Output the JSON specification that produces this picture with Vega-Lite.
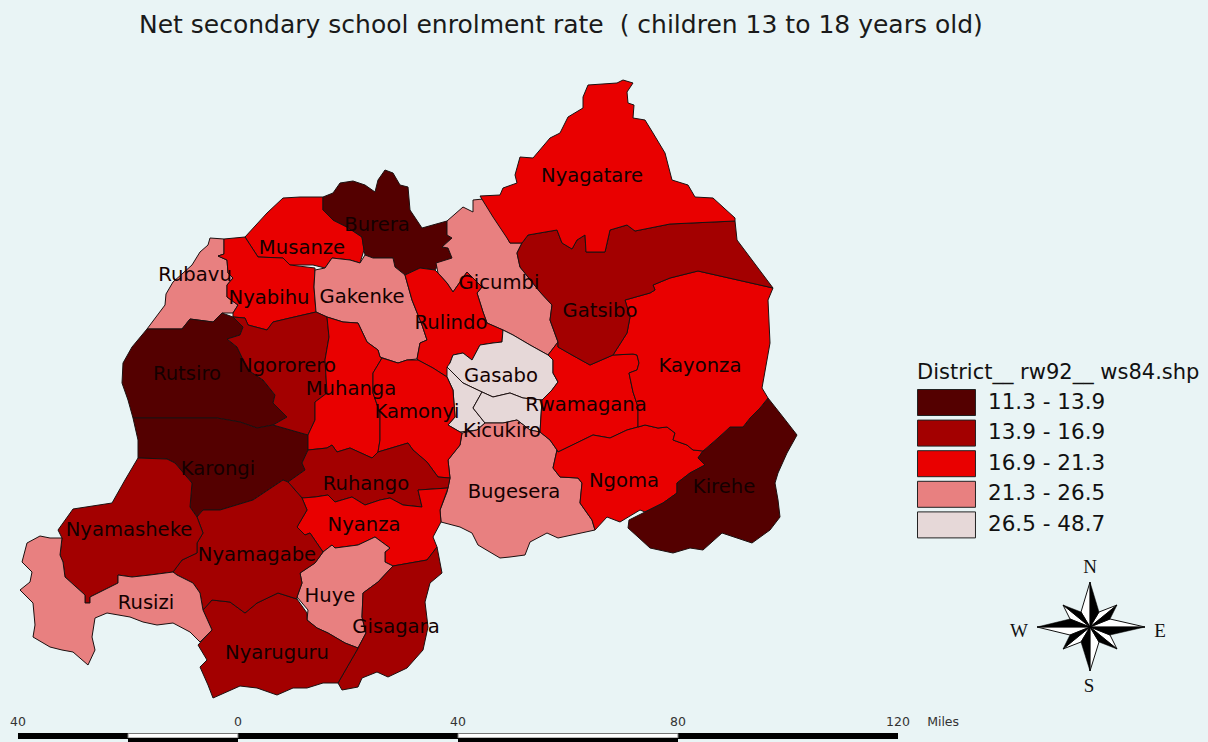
{
"$schema":"https://vega.github.io/schema/vega-lite/v6.json",
"width":1208,"height":742,"padding":0,"autosize":{"type":"none"},
"background":"#e9f4f5",
"title":{"text":"Net secondary school enrolment rate \u00a0( children 13 to 18 years old)","anchor":"start","frame":"group","dx":139,"offset":-38,"fontSize":25,"font":"DejaVu Sans","fontWeight":"normal","color":"#1a1a1a","limit":1000},
"config":{"view":{"stroke":null}},
"projection":{"type":"identity","scale":1,"translate":[0,0]},
"datasets":{
"districts":[
{"name":"Rubavu","cls":"21.3 - 26.5","geo":{"type":"Polygon","coordinates":[[[210,238],[224,239],[224,254],[218,256],[227,260],[228,273],[233,278],[227,285],[227,297],[238,305],[233,313],[222,313],[213,322],[190,319],[182,329],[147,329],[165,305],[166,294],[173,282],[192,265],[200,252],[208,245],[210,238]]]}},
{"name":"Musanze","cls":"16.9 - 21.3","geo":{"type":"Polygon","coordinates":[[[245,237],[267,213],[283,198],[300,197],[323,197],[323,210],[333,220],[347,227],[362,237],[364,250],[360,263],[350,260],[332,258],[325,268],[313,265],[290,265],[283,258],[258,257],[245,237]]]}},
{"name":"Nyabihu","cls":"16.9 - 21.3","geo":{"type":"Polygon","coordinates":[[[224,239],[245,237],[258,257],[283,258],[290,265],[315,268],[314,287],[316,312],[290,318],[273,322],[267,330],[248,325],[245,318],[233,317],[233,313],[238,305],[227,297],[227,285],[233,278],[228,273],[227,260],[218,256],[224,254],[224,239]]]}},
{"name":"Burera","cls":"11.3 - 13.9","geo":{"type":"Polygon","coordinates":[[[323,197],[333,193],[340,183],[353,181],[365,185],[375,192],[378,180],[385,170],[393,173],[400,185],[408,187],[410,210],[422,228],[447,221],[447,235],[452,238],[442,247],[448,248],[452,258],[437,267],[435,270],[420,268],[405,275],[395,267],[393,258],[373,258],[365,255],[364,250],[362,237],[347,227],[333,220],[323,210],[323,197]]]}},
{"name":"Gakenke","cls":"21.3 - 26.5","geo":{"type":"Polygon","coordinates":[[[332,258],[350,260],[360,263],[365,255],[373,258],[393,258],[395,267],[405,275],[412,300],[422,325],[427,340],[420,343],[417,359],[407,360],[398,363],[380,357],[378,350],[367,342],[358,323],[343,322],[327,317],[316,312],[314,287],[315,270],[325,268],[332,258]]]}},
{"name":"Gicumbi","cls":"21.3 - 26.5","geo":{"type":"Polygon","coordinates":[[[473,200],[483,199],[490,210],[500,223],[510,243],[522,243],[517,253],[520,267],[540,292],[552,305],[550,320],[558,342],[548,355],[530,345],[513,335],[503,330],[487,323],[483,312],[477,293],[482,287],[467,272],[453,292],[447,283],[438,273],[436,263],[452,258],[448,248],[442,247],[452,238],[447,235],[447,221],[463,207],[473,212],[473,200]]]}},
{"name":"Rulindo","cls":"16.9 - 21.3","geo":{"type":"Polygon","coordinates":[[[405,275],[420,268],[435,270],[438,273],[447,283],[453,292],[467,272],[482,287],[477,293],[483,312],[487,323],[503,330],[502,342],[493,343],[480,345],[472,360],[463,353],[453,355],[450,363],[447,377],[433,368],[418,360],[417,359],[420,343],[427,340],[422,325],[412,300],[405,275]]]}},
{"name":"Gasabo","cls":"26.5 - 48.7","geo":{"type":"Polygon","coordinates":[[[453,355],[463,353],[472,360],[480,345],[493,343],[502,342],[503,330],[513,335],[530,345],[548,355],[553,360],[553,373],[558,382],[552,390],[542,400],[523,398],[510,393],[493,397],[482,392],[463,383],[447,367],[450,363],[453,355]]]}},
{"name":"Nyarugenge","cls":"26.5 - 48.7","geo":{"type":"Polygon","coordinates":[[[447,367],[463,383],[482,392],[473,408],[485,423],[477,430],[460,432],[448,425],[455,417],[453,390],[447,377],[447,367]]]}},
{"name":"Kicukiro","cls":"26.5 - 48.7","geo":{"type":"Polygon","coordinates":[[[482,392],[493,397],[510,393],[523,398],[542,400],[540,432],[530,430],[517,420],[503,423],[485,423],[473,408],[482,392]]]}},
{"name":"Bugesera","cls":"21.3 - 26.5","geo":{"type":"Polygon","coordinates":[[[462,433],[477,430],[485,423],[503,423],[517,420],[530,430],[540,432],[550,440],[557,450],[553,468],[560,477],[578,478],[582,483],[580,503],[592,520],[595,530],[558,538],[547,533],[530,542],[525,555],[510,557],[500,558],[478,545],[472,533],[460,527],[441,522],[440,510],[447,492],[450,478],[448,460],[460,445],[462,433]]]}},
{"name":"Rwamagana","cls":"16.9 - 21.3","geo":{"type":"Polygon","coordinates":[[[540,432],[542,400],[552,390],[558,382],[553,373],[553,360],[548,355],[558,342],[558,347],[572,355],[590,365],[613,355],[633,354],[637,355],[639,363],[637,370],[629,373],[633,392],[638,407],[638,427],[627,430],[610,438],[593,435],[558,452],[557,450],[550,440],[540,432]]]}},
{"name":"Ngoma","cls":"16.9 - 21.3","geo":{"type":"Polygon","coordinates":[[[558,452],[593,435],[610,438],[627,430],[638,427],[645,425],[658,428],[667,427],[675,433],[673,440],[687,445],[693,450],[703,451],[698,458],[705,465],[690,473],[677,483],[677,493],[663,503],[645,512],[640,510],[620,522],[607,517],[595,530],[592,520],[580,503],[582,483],[578,478],[560,477],[553,468],[557,450],[558,452]]]}},
{"name":"Kirehe","cls":"11.3 - 13.9","geo":{"type":"Polygon","coordinates":[[[768,398],[783,417],[797,435],[787,453],[778,473],[775,483],[778,500],[780,517],[770,530],[752,543],[737,538],[722,533],[703,550],[690,548],[673,553],[650,548],[638,537],[628,528],[629,520],[645,512],[663,503],[677,493],[677,483],[690,473],[705,465],[698,458],[703,451],[718,438],[730,427],[743,427],[750,418],[760,408],[768,398]]]}},
{"name":"Kayonza","cls":"16.9 - 21.3","geo":{"type":"Polygon","coordinates":[[[773,288],[768,300],[770,343],[762,388],[768,398],[760,408],[750,418],[743,427],[730,427],[718,438],[703,451],[693,450],[687,445],[673,440],[675,433],[667,427],[658,428],[645,425],[638,427],[638,407],[633,392],[629,373],[637,370],[639,363],[637,355],[633,354],[613,355],[627,333],[630,317],[625,300],[650,293],[655,290],[653,285],[670,278],[698,271],[773,288]]]}},
{"name":"Gatsibo","cls":"13.9 - 16.9","geo":{"type":"Polygon","coordinates":[[[528,235],[557,230],[562,243],[572,249],[577,240],[585,235],[586,252],[605,252],[610,230],[627,225],[635,231],[670,224],[735,221],[737,240],[773,288],[698,271],[670,278],[653,285],[655,290],[650,293],[625,300],[630,317],[627,333],[613,355],[590,365],[572,355],[558,347],[558,342],[550,320],[552,305],[540,292],[520,267],[517,253],[522,243],[528,235]]]}},
{"name":"Nyagatare","cls":"16.9 - 21.3","geo":{"type":"Polygon","coordinates":[[[480,196],[500,195],[503,188],[517,183],[515,175],[520,157],[533,158],[550,138],[560,133],[568,117],[583,108],[583,97],[588,85],[617,83],[623,80],[633,83],[627,92],[628,103],[634,105],[633,118],[645,120],[653,133],[665,153],[672,180],[688,185],[695,197],[713,198],[735,218],[735,221],[670,224],[635,231],[627,225],[610,230],[605,252],[586,252],[585,235],[577,240],[572,249],[562,243],[557,230],[528,235],[522,243],[510,243],[507,238],[493,217],[480,196]]]}},
{"name":"Rutsiro","cls":"11.3 - 13.9","geo":{"type":"Polygon","coordinates":[[[147,329],[182,329],[190,319],[213,322],[222,313],[233,317],[243,327],[240,335],[227,339],[237,347],[248,370],[263,380],[275,395],[273,403],[287,417],[273,425],[257,428],[240,422],[217,418],[133,418],[128,400],[122,383],[123,363],[132,347],[147,329]]]}},
{"name":"Karongi","cls":"11.3 - 13.9","geo":{"type":"Polygon","coordinates":[[[133,418],[217,418],[240,422],[257,428],[273,425],[308,435],[308,450],[302,463],[305,470],[288,482],[283,480],[253,500],[220,510],[203,510],[197,517],[190,507],[192,483],[175,463],[167,459],[138,458],[138,440],[133,418]]]}},
{"name":"Ngororero","cls":"13.9 - 16.9","geo":{"type":"Polygon","coordinates":[[[233,317],[245,318],[248,325],[267,330],[273,322],[290,318],[316,312],[327,317],[329,337],[325,360],[327,393],[315,402],[315,420],[308,435],[273,425],[287,417],[273,403],[275,395],[263,380],[248,370],[237,347],[227,339],[240,335],[243,327],[233,317]]]}},
{"name":"Muhanga","cls":"16.9 - 21.3","geo":{"type":"Polygon","coordinates":[[[327,317],[343,322],[358,323],[367,342],[378,350],[380,357],[382,358],[373,373],[373,393],[380,413],[380,440],[378,452],[372,458],[350,448],[337,452],[332,445],[327,448],[308,450],[308,435],[315,420],[315,402],[327,393],[325,360],[329,337],[327,317]]]}},
{"name":"Kamonyi","cls":"16.9 - 21.3","geo":{"type":"Polygon","coordinates":[[[382,358],[398,363],[407,360],[418,360],[433,368],[447,377],[453,390],[455,417],[448,425],[460,432],[462,433],[460,445],[448,460],[450,478],[438,477],[427,462],[413,450],[408,443],[378,452],[380,440],[380,413],[373,393],[373,373],[382,358]]]}},
{"name":"Ruhango","cls":"13.9 - 16.9","geo":{"type":"Polygon","coordinates":[[[308,450],[327,448],[332,445],[337,452],[350,448],[372,458],[378,452],[408,443],[413,450],[427,462],[438,477],[450,478],[448,488],[418,490],[422,507],[403,505],[390,498],[380,500],[365,505],[352,497],[335,502],[328,495],[315,497],[302,498],[288,482],[305,470],[302,463],[308,450]]]}},
{"name":"Nyanza","cls":"16.9 - 21.3","geo":{"type":"Polygon","coordinates":[[[448,488],[440,510],[441,522],[433,537],[437,547],[427,560],[393,566],[385,562],[385,552],[390,548],[375,537],[358,545],[335,548],[332,545],[323,552],[310,533],[305,535],[297,527],[307,510],[302,498],[315,497],[328,495],[335,502],[352,497],[365,505],[380,500],[390,498],[403,505],[422,507],[418,490],[448,488]]]}},
{"name":"Huye","cls":"21.3 - 26.5","geo":{"type":"Polygon","coordinates":[[[375,537],[390,548],[385,552],[385,562],[393,566],[378,582],[363,593],[362,617],[366,633],[358,648],[345,643],[328,633],[317,628],[307,620],[308,610],[297,597],[302,583],[300,573],[315,563],[323,552],[332,545],[335,548],[358,545],[375,537]]]}},
{"name":"Gisagara","cls":"13.9 - 16.9","geo":{"type":"Polygon","coordinates":[[[437,547],[442,573],[430,583],[425,602],[428,627],[423,650],[407,668],[388,677],[377,672],[362,678],[358,687],[342,690],[338,683],[357,650],[358,648],[366,633],[362,617],[363,593],[378,582],[393,566],[427,560],[437,547]]]}},
{"name":"Nyaruguru","cls":"13.9 - 16.9","geo":{"type":"Polygon","coordinates":[[[203,610],[212,600],[230,602],[245,613],[257,603],[278,593],[297,599],[307,613],[307,620],[317,628],[328,633],[345,643],[358,648],[357,650],[338,683],[323,683],[307,688],[293,688],[277,695],[257,688],[240,686],[213,698],[208,685],[200,667],[207,660],[198,645],[212,630],[203,610]]]}},
{"name":"Nyamagabe","cls":"13.9 - 16.9","geo":{"type":"Polygon","coordinates":[[[283,480],[288,482],[302,498],[307,510],[297,527],[305,535],[310,533],[323,552],[315,563],[300,573],[302,583],[297,597],[297,599],[278,593],[257,603],[245,613],[230,602],[212,600],[203,610],[200,593],[193,583],[177,575],[173,572],[182,560],[197,553],[197,543],[203,533],[197,517],[203,510],[220,510],[253,500],[283,480]]]}},
{"name":"Nyamasheke","cls":"13.9 - 16.9","geo":{"type":"Polygon","coordinates":[[[138,458],[167,459],[175,463],[192,483],[190,507],[197,517],[203,533],[197,543],[197,553],[182,560],[173,572],[150,575],[132,577],[118,575],[118,583],[90,597],[90,603],[85,603],[85,595],[65,577],[63,562],[60,555],[62,538],[58,530],[73,509],[112,503],[125,480],[138,458]]]}},
{"name":"Rusizi","cls":"21.3 - 26.5","geo":{"type":"Polygon","coordinates":[[[60,538],[50,538],[40,536],[27,543],[22,562],[32,572],[30,582],[20,590],[33,603],[35,625],[33,637],[50,647],[62,650],[73,652],[88,665],[95,650],[92,637],[95,618],[107,613],[130,617],[143,622],[157,625],[173,623],[190,632],[200,642],[212,630],[203,610],[200,593],[193,583],[177,575],[173,572],[150,575],[132,577],[118,575],[118,583],[90,597],[90,603],[85,603],[85,595],[65,577],[63,562],[60,555],[62,538],[60,538]]]}}
],
"labels":[
{"label":"Nyagatare","mx":592,"my":176},{"label":"Burera","mx":377,"my":225},{"label":"Musanze","mx":302,"my":248},{"label":"Rubavu","mx":195,"my":275},{"label":"Nyabihu","mx":269,"my":298},{"label":"Gakenke","mx":362,"my":297},{"label":"Gicumbi","mx":499,"my":283},{"label":"Gatsibo","mx":600,"my":311},{"label":"Rulindo","mx":451,"my":323},{"label":"Rutsiro","mx":187,"my":374},{"label":"Ngororero","mx":287,"my":366},{"label":"Muhanga","mx":351,"my":389},{"label":"Gasabo","mx":501,"my":376},{"label":"Kayonza","mx":700,"my":366},{"label":"Kamonyi","mx":417,"my":412},{"label":"Rwamagana","mx":586,"my":405},{"label":"Kicukiro","mx":502,"my":431},{"label":"Karongi","mx":218,"my":469},{"label":"Ruhango","mx":366,"my":484},{"label":"Bugesera","mx":514,"my":492},{"label":"Ngoma","mx":624,"my":481},{"label":"Kirehe","mx":724,"my":487},{"label":"Nyanza","mx":364,"my":525},{"label":"Nyamasheke","mx":129,"my":530},{"label":"Nyamagabe","mx":257,"my":555},{"label":"Huye","mx":330,"my":596},{"label":"Rusizi","mx":146,"my":603},{"label":"Gisagara","mx":396,"my":627},{"label":"Nyaruguru","mx":277,"my":653}
],
"compassParts":[
{"tone":"light","geo":{"type":"Polygon","coordinates":[[[1090,627],[1090,582],[1081,612],[1090,627]]]}},
{"tone":"light","geo":{"type":"Polygon","coordinates":[[[1090,627],[1117,605],[1099,612],[1090,627]]]}},
{"tone":"light","geo":{"type":"Polygon","coordinates":[[[1090,627],[1145,627],[1110,619],[1090,627]]]}},
{"tone":"light","geo":{"type":"Polygon","coordinates":[[[1090,627],[1117,649],[1110,635],[1090,627]]]}},
{"tone":"light","geo":{"type":"Polygon","coordinates":[[[1090,627],[1090,671],[1099,642],[1090,627]]]}},
{"tone":"light","geo":{"type":"Polygon","coordinates":[[[1090,627],[1063,649],[1081,642],[1090,627]]]}},
{"tone":"light","geo":{"type":"Polygon","coordinates":[[[1090,627],[1037,627],[1070,635],[1090,627]]]}},
{"tone":"light","geo":{"type":"Polygon","coordinates":[[[1090,627],[1063,605],[1070,619],[1090,627]]]}},
{"tone":"dark","geo":{"type":"Polygon","coordinates":[[[1090,627],[1090,582],[1099,612],[1090,627]]]}},
{"tone":"dark","geo":{"type":"Polygon","coordinates":[[[1090,627],[1117,605],[1110,619],[1090,627]]]}},
{"tone":"dark","geo":{"type":"Polygon","coordinates":[[[1090,627],[1145,627],[1110,635],[1090,627]]]}},
{"tone":"dark","geo":{"type":"Polygon","coordinates":[[[1090,627],[1117,649],[1099,642],[1090,627]]]}},
{"tone":"dark","geo":{"type":"Polygon","coordinates":[[[1090,627],[1090,671],[1081,642],[1090,627]]]}},
{"tone":"dark","geo":{"type":"Polygon","coordinates":[[[1090,627],[1063,649],[1070,635],[1090,627]]]}},
{"tone":"dark","geo":{"type":"Polygon","coordinates":[[[1090,627],[1037,627],[1070,619],[1090,627]]]}},
{"tone":"dark","geo":{"type":"Polygon","coordinates":[[[1090,627],[1063,605],[1081,612],[1090,627]]]}}
],
"compassLetters":[
{"label":"N","mx":1090,"my":567},{"label":"W","mx":1019,"my":631},{"label":"E","mx":1160,"my":631},{"label":"S","mx":1089,"my":686}
],
"scaleSegments":[
{"from":-40,"to":-20,"tone":"dark"},{"from":-20,"to":0,"tone":"light"},{"from":0,"to":40,"tone":"dark"},{"from":40,"to":80,"tone":"light"},{"from":80,"to":120,"tone":"dark"}
],
"scaleTicks":[
{"miles":-40,"label":"40"},{"miles":0,"label":"0"},{"miles":40,"label":"40"},{"miles":80,"label":"80"},{"miles":120,"label":"120"},{"miles":128.2,"label":"Miles"}
]
},
"layer":[
{"data":{"name":"districts"},
 "mark":{"type":"geoshape","stroke":"#1c1010","strokeWidth":1},
 "encoding":{"shape":{"field":"geo","type":"geojson"},
  "color":{"field":"cls","type":"nominal",
   "scale":{"domain":["11.3 - 13.9","13.9 - 16.9","16.9 - 21.3","21.3 - 26.5","26.5 - 48.7"],"range":["#540000","#a30000","#e90000","#e88080","#e6d8d8"]},
   "legend":{"orient":"none","legendX":917,"legendY":362,"title":"District__ rw92__ ws84.shp","titleFont":"DejaVu Sans","titleFontSize":21,"titleFontWeight":"normal","titleColor":"#111","titleLimit":400,"titlePadding":6,"labelFont":"DejaVu Sans","labelFontSize":21.5,"labelColor":"#111","labelOffset":44,"labelLimit":300,"rowPadding":-0.4,"symbolSize":676,"symbolType":"M-1,-1H3.46V1H-1Z","symbolStrokeColor":"#222","symbolStrokeWidth":1,"symbolOpacity":1}}}},
{"data":{"name":"labels"},
 "mark":{"type":"text","font":"DejaVu Sans","fontSize":19.6,"color":"#140000","align":"center","baseline":"middle"},
 "encoding":{"longitude":{"field":"mx","type":"quantitative"},"latitude":{"field":"my","type":"quantitative"},"text":{"field":"label","type":"nominal"}}},
{"data":{"name":"compassParts"},"transform":[{"filter":"datum.tone === 'light'"}],
 "mark":{"type":"geoshape","fill":"#ffffff","stroke":"#111111","strokeWidth":1},
 "encoding":{"shape":{"field":"geo","type":"geojson"}}},
{"data":{"name":"compassParts"},"transform":[{"filter":"datum.tone === 'dark'"}],
 "mark":{"type":"geoshape","fill":"#000000","stroke":"#000000","strokeWidth":0.5},
 "encoding":{"shape":{"field":"geo","type":"geojson"}}},
{"data":{"name":"compassLetters"},
 "mark":{"type":"text","font":"Liberation Serif","fontSize":19,"color":"#111","align":"center","baseline":"middle"},
 "encoding":{"longitude":{"field":"mx","type":"quantitative"},"latitude":{"field":"my","type":"quantitative"},"text":{"field":"label","type":"nominal"}}},
{"data":{"name":"scaleSegments"},"transform":[{"filter":"datum.tone === 'dark'"}],
 "mark":{"type":"rect","fill":"#000000","y":733,"y2":739},
 "encoding":{"x":{"field":"from","type":"quantitative","axis":null,"scale":{"domain":[-43.27,176.36],"nice":false,"zero":false}},"x2":{"field":"to"}}},
{"data":{"name":"scaleSegments"},"transform":[{"filter":"datum.tone === 'light'"}],
 "mark":{"type":"rect","fill":"#ffffff","stroke":"#777777","strokeWidth":1,"y":733.5,"y2":738},
 "encoding":{"x":{"field":"from","type":"quantitative","axis":null,"scale":{"domain":[-43.27,176.36],"nice":false,"zero":false}},"x2":{"field":"to"}}},
{"data":{"name":"scaleSegments"},"transform":[{"filter":"datum.tone === 'light'"}],
 "mark":{"type":"rect","fill":"#000000","y":738,"y2":742},
 "encoding":{"x":{"field":"from","type":"quantitative","axis":null,"scale":{"domain":[-43.27,176.36],"nice":false,"zero":false}},"x2":{"field":"to"}}},
{"data":{"name":"scaleTicks"},
 "mark":{"type":"text","font":"DejaVu Sans","fontSize":12.5,"color":"#333333","align":"center","baseline":"middle","y":722},
 "encoding":{"x":{"field":"miles","type":"quantitative","axis":null,"scale":{"domain":[-43.27,176.36],"nice":false,"zero":false}},"text":{"field":"label","type":"nominal"}}}
]
}
